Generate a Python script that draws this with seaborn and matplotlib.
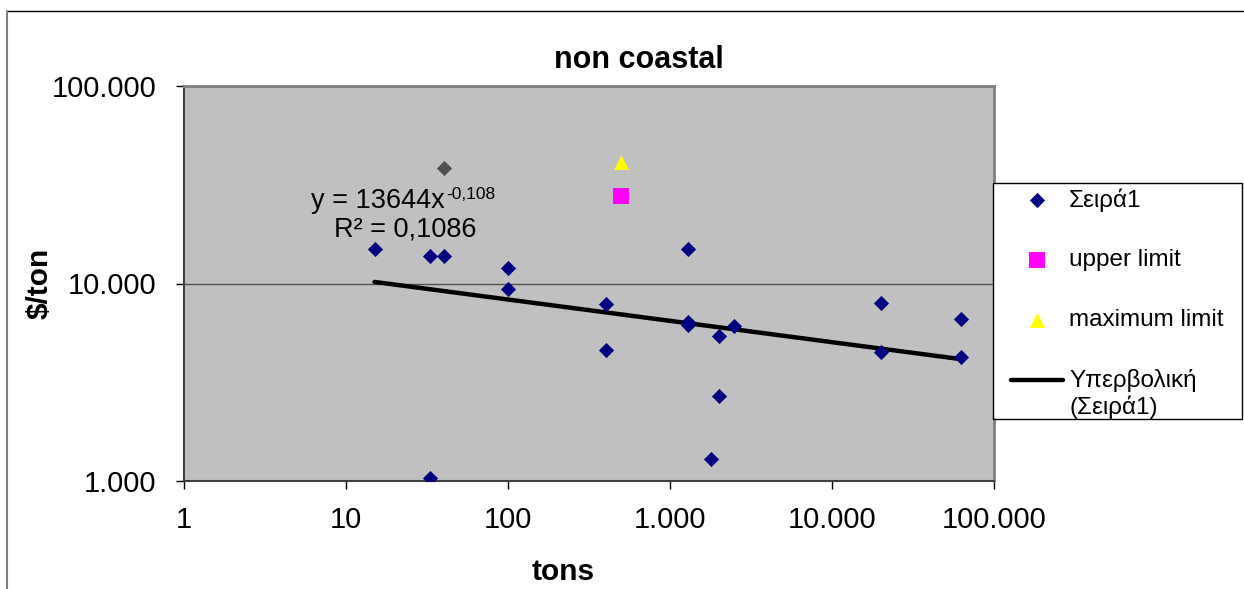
import matplotlib
matplotlib.use("Agg")
import matplotlib.pyplot as plt
import seaborn as sns
import numpy as np
from matplotlib.lines import Line2D
from matplotlib.patches import Rectangle
from matplotlib.legend_handler import HandlerLine2D

# ---- data ----
series1_tons = [15, 33, 40, 100, 100, 33, 400, 400, 1300, 1300, 1300,
                2000, 2500, 2000, 1800, 20000, 20000, 63000, 63000]
series1_cost = [14900, 13800, 13800, 12000, 9400, 1030, 7870, 4600, 15000, 6400, 6200,
                5400, 6100, 2700, 1290, 7950, 4500, 6600, 4250]
outlier_tons = [40]
outlier_cost = [38600]
upper_tons = [500]
upper_cost = [27600]
maxlim_tons = [500]
maxlim_cost = [41400]
trend_coef = 13644
trend_exp = -0.108
trend_r2 = "0,1086"

x_ticks = [1, 10, 100, 1000, 10000, 100000]
x_tick_labels = ["1", "10", "100", "1.000", "10.000", "100.000"]
y_ticks = [1000, 10000, 100000]
y_tick_labels = ["1.000", "10.000", "100.000"]

label_series1 = "Σειρά1"
label_upper = "upper limit"
label_max = "maximum limit"
label_trend = "Υπερβολική\n(Σειρά1)"

sns.set_style("white")
plt.rcParams['font.family'] = ['Liberation Sans', 'DejaVu Sans']
plt.rcParams.update({'text.color': 'black', 'axes.labelcolor': 'black',
                     'xtick.color': 'black', 'ytick.color': 'black'})

W, H = 1244, 589
fig = plt.figure(figsize=(W / 100, H / 100), dpi=100)
ax = fig.add_axes([184 / W, 1 - 481 / H, 810 / W, 395 / H])
ax.set_xscale('log')
ax.set_yscale('log')
ax.set_facecolor('#C0C0C0')

# trend line from the fitted power law over the data range
trend_x = np.geomspace(min(series1_tons), max(series1_tons), 60)
trend_y = trend_coef * trend_x ** trend_exp

sns.scatterplot(x=series1_tons, y=series1_cost, marker='D', s=60, color='#000080',
                linewidth=0, ax=ax, label=label_series1, zorder=3)
sns.scatterplot(x=outlier_tons, y=outlier_cost, marker='D', s=60, color='#505050',
                linewidth=0, ax=ax, legend=False, zorder=3)
sns.scatterplot(x=upper_tons, y=upper_cost, marker='s', s=117, color='#FF00FF',
                linewidth=0, ax=ax, label=label_upper, zorder=3)
sns.scatterplot(x=maxlim_tons, y=maxlim_cost, marker='^', s=117, color='#FFFF00',
                linewidth=0, ax=ax, label=label_max, zorder=3)
sns.lineplot(x=trend_x, y=trend_y, color='black', linewidth=3.2, ax=ax,
             label=label_trend, estimator=None, sort=True, zorder=2)

ax.set_xlim(1, 100000)
ax.set_ylim(1000, 100000)
ax.set_xticks(x_ticks)
ax.set_xticklabels(x_tick_labels)
ax.set_yticks(y_ticks)
ax.set_yticklabels(y_tick_labels)
ax.minorticks_off()
ax.tick_params(axis='x', which='major', direction='out', length=6, width=1,
               color='black', labelsize=21, pad=12, bottom=True)
ax.tick_params(axis='y', which='major', direction='out', length=6, width=1,
               color='black', labelsize=21, pad=14, left=True)

ax.yaxis.grid(True, color='#505050', linewidth=1)
ax.xaxis.grid(False)
ax.set_axisbelow(True)

for side in ['top', 'right']:
    ax.spines[side].set_color('#808080')
    ax.spines[side].set_linewidth(2)
for side in ['left', 'bottom']:
    ax.spines[side].set_color('#404040')
    ax.spines[side].set_linewidth(1.5)

ax.set_xlabel('tons', fontsize=21.5, fontweight='bold')
ax.xaxis.set_label_coords((563 - 184) / 810, (481 - 572) / 395)
ax.xaxis.label.set_va('center')
ax.set_ylabel('$/ton', fontsize=21.5, fontweight='bold')
ax.yaxis.set_label_coords((40 - 184) / 810, 0.5)
ax.yaxis.label.set_va('center')

fig.text(639 / W, 1 - 68 / H, 'non coastal', fontsize=22, fontweight='bold',
         ha='center', va='baseline')

# trendline equation and R²
fig.text(445 / W, 1 - 208 / H, f'y = {trend_coef}x', fontsize=19.5,
         ha='right', va='baseline')
fig.text(446 / W, 1 - 199 / H, f'{trend_exp}'.replace('.', ','), fontsize=12.5,
         ha='left', va='baseline')
fig.text(405 / W, 1 - 237 / H, f'R² = {trend_r2}', fontsize=19.5,
         ha='center', va='baseline')


class FirstLineHandler(HandlerLine2D):
    """Align the line handle with the first line of a two-line label."""
    def create_artists(self, legend, orig_handle, xdescent, ydescent, width, height,
                       fontsize, trans):
        artists = super().create_artists(legend, orig_handle, xdescent, ydescent,
                                         width, height, fontsize, trans)
        for a in artists:
            a.set_ydata(np.asarray(a.get_ydata(), float) + 0.6 * fontsize)
        return artists


# legend
handles, labels = ax.get_legend_handles_labels()
if ax.get_legend() is not None:
    ax.get_legend().remove()
fig.add_artist(Rectangle((993 / W, 1 - 419 / H), 249 / W, 236 / H,
                         transform=fig.transFigure, facecolor='white',
                         edgecolor='black', linewidth=1, zorder=4))
leg = fig.legend(handles, labels, loc='upper left',
                 bbox_to_anchor=(1011 / W, 1 - 188 / H),
                 borderaxespad=0, borderpad=0, frameon=False, fontsize=17.5,
                 labelspacing=1.56, handlelength=2.14, handletextpad=0.25,
                 handler_map={handles[-1]: FirstLineHandler()})
leg.set_zorder(5)

# chart-area border
fig.add_artist(Line2D([7 / W, 1], [1 - 11 / H, 1 - 11 / H], color='black', linewidth=1,
                      transform=fig.transFigure))
fig.add_artist(Line2D([7 / W, 7 / W], [1 - 11 / H, 0], color='#808080', linewidth=1.5,
                      transform=fig.transFigure))

fig.savefig('out.png', dpi=100)
